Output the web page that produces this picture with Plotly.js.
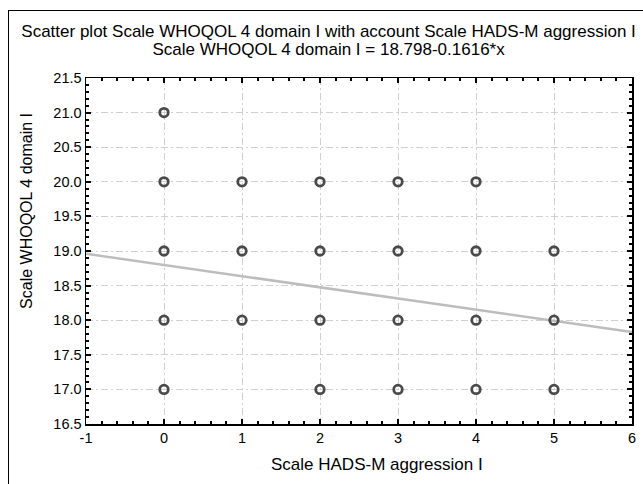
<!DOCTYPE html>
<html>
<head>
<meta charset="utf-8">
<script src="https://cdn.plot.ly/plotly-3.0.1.min.js"></script>
<style>
html,body{margin:0;padding:0;background:#fff;}
#wrap{position:relative;width:643px;height:484px;overflow:hidden;}
#chart{position:absolute;left:0;top:0;width:643px;height:484px;}
#frame{position:absolute;left:8px;top:10px;width:700px;height:600px;border:1px solid #000;pointer-events:none;}
</style>
</head>
<body>
<div id="wrap"><div id="chart"></div><div id="frame"></div></div>
<script>
// Data
const aggressionX = [0,0,0,0,0, 1,1,1, 2,2,2,2, 3,3,3,3, 4,4,4,4, 5,5,5];
const whoqolY     = [21,20,19,18,17, 20,19,18, 20,19,18,17, 20,19,18,17, 20,19,18,17, 19,18,17];
const fitIntercept = 18.798;
const fitSlope = -0.1616;
const fitX = [-1, 6];
const fitY = fitX.map(v => fitIntercept + fitSlope * v);
const xTicks = [-1,0,1,2,3,4,5,6];
const yTicks = [16.5,17.0,17.5,18.0,18.5,19.0,19.5,20.0,20.5,21.0,21.5];
const xTitle = 'Scale HADS-M aggression I';
const yTitle = 'Scale WHOQOL 4 domain I';
const titleLine1 = 'Scatter plot Scale WHOQOL 4 domain I with account Scale HADS-M aggression I';
const titleLine2 = 'Scale WHOQOL 4 domain I = 18.798-0.1616*x';

const fontFam = 'Liberation Sans, Arial, sans-serif';

const traces = [
  {
    x: fitX, y: fitY, mode: 'lines', type: 'scatter',
    line: {color: '#bdbdbd', width: 2.5},
    hoverinfo: 'skip', showlegend: false
  },
  {
    x: aggressionX, y: whoqolY, mode: 'markers', type: 'scatter',
    marker: {symbol: 'circle-open', size: 8.5, color: '#4a4a4a', line: {width: 2.8, color: '#4a4a4a'}},
    showlegend: false
  }
];

const gridDash = '7px,3px,2px,3px';

const layout = {
  width: 643, height: 484,
  paper_bgcolor: 'rgba(0,0,0,0)', plot_bgcolor: '#ffffff',
  margin: {l: 86, r: 11, t: 78, b: 60},
  font: {family: fontFam, color: '#000', size: 14},
  title: {
    text: '<span style="font-size:17px">' + titleLine1 + '</span><br><span style="font-size:17px">' + titleLine2 + '</span>',
    font: {family: fontFam, size: 13.8, color: '#000'},
    xref: 'container', x: 0.511, xanchor: 'center',
    yref: 'container', y: 1 - 37/484, yanchor: 'top'
  },
  xaxis: {
    range: [-1, 6], tickvals: xTicks, ticktext: xTicks.map(String),
    showline: true, linecolor: '#000', linewidth: 1.5, mirror: 'allticks',
    ticks: 'inside', ticklen: 5, tickwidth: 2, tickcolor: '#000',
    minor: {dtick: 0.2, ticks: 'inside', ticklen: 3, tickwidth: 2, tickcolor: '#000', showgrid: false},
    showgrid: true, gridcolor: '#d0d0d0', gridwidth: 1, griddash: gridDash,
    zeroline: false, tickfont: {size: 14.5}
  },
  yaxis: {
    range: [16.5, 21.5], tickvals: yTicks, ticktext: yTicks.map(v => v.toFixed(1)),
    showline: true, linecolor: '#000', linewidth: 1.5, mirror: 'allticks',
    ticks: 'inside', ticklen: 5, tickwidth: 2, tickcolor: '#000',
    minor: {dtick: 0.1, ticks: 'inside', ticklen: 3, tickwidth: 2, tickcolor: '#000', showgrid: false},
    showgrid: true, gridcolor: '#d0d0d0', gridwidth: 1, griddash: gridDash,
    zeroline: false, tickfont: {size: 14.5}
  },
  annotations: [
    {
      text: xTitle, showarrow: false,
      xref: 'x', x: 2.73, xanchor: 'center',
      yref: 'paper', y: -0.118, yanchor: 'middle',
      font: {size: 17}
    },
    {
      text: yTitle, showarrow: false, textangle: -90,
      xref: 'paper', x: -0.108, xanchor: 'center',
      yref: 'y', y: 19.58, yanchor: 'middle',
      font: {size: 16}
    }
  ]
};

Plotly.newPlot('chart', traces, layout, {displayModeBar: false, staticPlot: true});
</script>
</body>
</html>
